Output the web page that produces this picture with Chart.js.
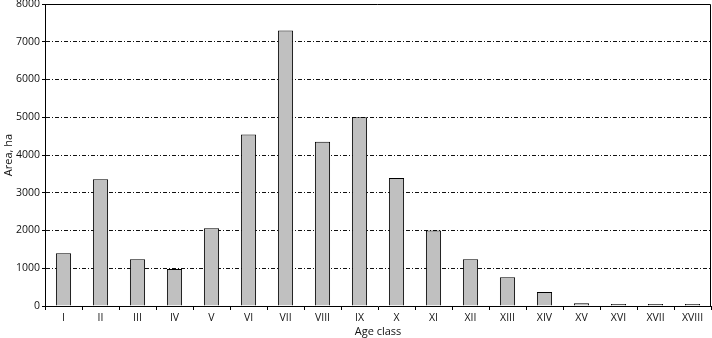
<!DOCTYPE html>
<html>
<head>
<meta charset="utf-8">
<script src="https://cdn.jsdelivr.net/npm/chart.js@4/dist/chart.umd.min.js"></script>
<style>
  html, body { margin: 0; padding: 0; background: #fff; }
  #wrap { width: 712px; height: 338px; position: relative; }
</style>
</head>
<body>
<div id="wrap"><canvas id="c"></canvas></div>
<script>
const categories = ["I","II","III","IV","V","VI","VII","VIII","IX","X","XI","XII","XIII","XIV","XV","XVI","XVII","XVIII"];
const areaHa = [1400, 3360, 1240, 980, 2060, 4540, 7300, 4350, 5000, 3390, 2000, 1240, 760, 370, 70, 35, 50, 35];
const yTicks = [0, 1000, 2000, 3000, 4000, 5000, 6000, 7000, 8000];
const xTitle = "Age class";
const yTitle = "Area, ha";

const frame = {
  id: 'frame',
  afterDraw(chart) {
    const { ctx, chartArea: a } = chart;
    ctx.save();
    ctx.strokeStyle = '#000';
    ctx.lineWidth = 1;
    ctx.beginPath();
    ctx.moveTo(a.left, Math.round(a.top) + 0.5);
    ctx.lineTo(Math.round(a.right) - 0.5, Math.round(a.top) + 0.5);
    ctx.lineTo(Math.round(a.right) - 0.5, a.bottom);
    ctx.stroke();
    ctx.restore();
  }
};

new Chart(document.getElementById('c'), {
  type: 'bar',
  data: {
    labels: categories,
    datasets: [{
      data: areaHa,
      backgroundColor: '#c0c0c0',
      borderColor: '#000',
      borderWidth: 1,
      minBarLength: 2,
      categoryPercentage: 1,
      barPercentage: 0.41
    }]
  },
  plugins: [frame],
  options: {
    responsive: true,
    maintainAspectRatio: false,
    animation: false,
    layout: { padding: { top: 4, right: 1, left: 0, bottom: 0 } },
    plugins: { legend: { display: false }, tooltip: { enabled: false } },
    scales: {
      x: {
        grid: { display: true, drawOnChartArea: false, drawTicks: true, tickLength: 4, tickColor: '#000', offset: true },
        border: { display: true, color: '#000', width: 1 },
        ticks: { color: '#111', font: { family: 'Open Sans', size: 10.5 }, padding: 2, maxRotation: 0, autoSkip: false },
        title: { display: true, text: xTitle, color: '#111', font: { family: 'Open Sans', size: 11 }, padding: { top: 0, bottom: 0 } },
        afterFit(s) { s.height = 32; }
      },
      y: {
        min: 0, max: 8000,
        afterBuildTicks(s) { s.ticks = yTicks.map(v => ({ value: v })); },
        afterFit(s) { s.width = 45; s.paddingTop = 0; s.paddingBottom = 0; },
        grid: {
          color: ctx => (ctx.tick && (ctx.tick.value === 0 || ctx.tick.value === 8000)) ? 'rgba(0,0,0,0)' : '#111',
          lineWidth: 1, drawTicks: true, tickLength: 3, tickColor: '#000', tickBorderDash: []
        },
        border: { display: true, color: '#000', width: 1, dash: [4, 2, 1, 2] },
        ticks: { color: '#111', font: { family: 'Open Sans', size: 10.5 }, padding: 2, callback: v => String(v) },
        title: { display: true, text: yTitle, color: '#111', font: { family: 'Open Sans', size: 11 }, padding: { top: 2, bottom: 0 } }
      }
    }
  }
});
</script>
</body>
</html>
